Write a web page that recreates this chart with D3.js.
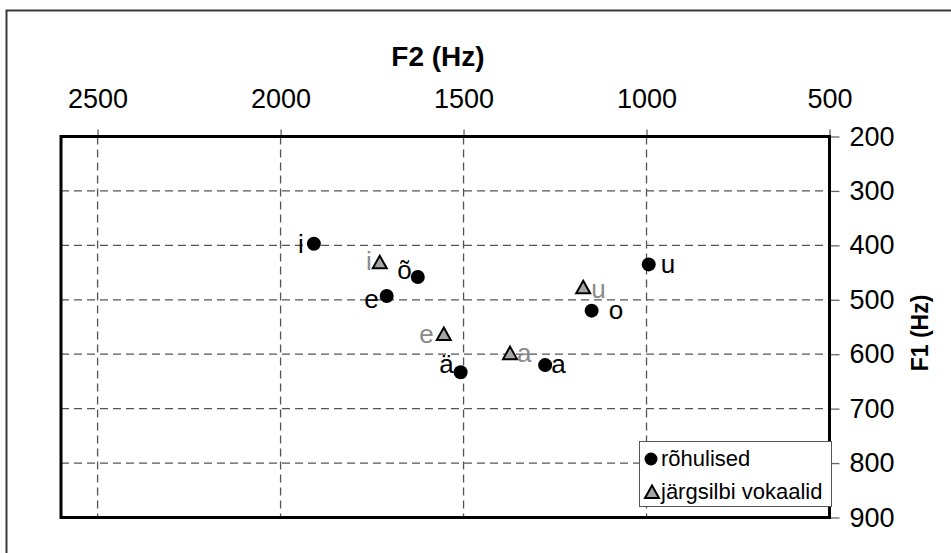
<!DOCTYPE html>
<html>
<head>
<meta charset="utf-8">
<script src="https://cdn.jsdelivr.net/npm/d3@7"></script>
<style>
  html, body { margin: 0; padding: 0; background: #fff; }
  svg { display: block; font-family: "Liberation Sans", Arial, sans-serif; }
</style>
</head>
<body>
<svg id="chart" width="951" height="553"></svg>
<script>
// Estonian vowel formants: stressed vowels vs. vowels of non-initial syllables
const stressedVowels = ["i", "õ", "e", "ä", "a", "o", "u"];
const stressedF2 = [1909, 1625, 1710, 1508, 1277, 1150, 994];
const stressedF1 = [397, 458, 493, 633, 620, 520, 435];

const unstressedVowels = ["i", "e", "a", "u"];
const unstressedF2 = [1729, 1554, 1373, 1173];
const unstressedF1 = [431, 563, 598, 477];

const f2Ticks = [2500, 2000, 1500, 1000, 500];
const f1Ticks = [200, 300, 400, 500, 600, 700, 800, 900];

const legendLabels = ["rõhulised", "järgsilbi vokaalid"];

// label placement around each marker: [anchor, dx, dy]
const stressedLabelPos = {
  i: ["end", -10, 9], "õ": ["end", -6, 2], e: ["end", -8, 12], "ä": ["end", -7, 1],
  a: ["start", 6, 8], o: ["start", 17, 8], u: ["start", 12, 9]
};
const unstressedLabelPos = {
  i: ["end", -8, 8], e: ["end", -10, 9], a: ["start", 7, 9], u: ["start", 8, 11]
};

const FONT = "Liberation Sans, Arial, sans-serif";
const svg = d3.select("#chart");

const plot = { left: 61, right: 829.5, top: 136.5, bottom: 517.5 };

const x = d3.scaleLinear().domain([2600, 500]).range([plot.left, plot.right]);
const y = d3.scaleLinear().domain([200, 900]).range([plot.top, plot.bottom]);

// outer frame
svg.append("rect")
  .attr("x", 6.5).attr("y", 10.5).attr("width", 1000).attr("height", 1000)
  .attr("fill", "none").attr("stroke", "#3a3a3a").attr("stroke-width", 2);

// dashed grid
const grid = svg.append("g").attr("stroke", "#555").attr("stroke-width", 1.3)
  .attr("stroke-dasharray", "8,5").attr("fill", "none");
grid.selectAll("line.v").data(f2Ticks.filter(t => t > 500)).join("line")
  .attr("x1", d => x(d)).attr("x2", d => x(d))
  .attr("y1", plot.top).attr("y2", plot.bottom);
grid.selectAll("line.h").data(f1Ticks.filter(t => t > 200 && t < 900)).join("line")
  .attr("class", "h")
  .attr("x1", plot.left).attr("x2", plot.right)
  .attr("y1", d => y(d)).attr("y2", d => y(d));

// top F2 axis
const xAxis = d3.axisTop(x).tickValues(f2Ticks).tickFormat(d3.format("d"))
  .tickSize(7).tickPadding(22);
const gx = svg.append("g").attr("transform", `translate(0,${plot.top})`).call(xAxis);
gx.select(".domain").remove();
gx.selectAll(".tick line").attr("stroke", "#666").attr("stroke-width", 1.3);
gx.selectAll(".tick text").attr("font-size", 27).attr("fill", "#000").attr("font-family", FONT);

// right F1 axis
const yAxis = d3.axisRight(y).tickValues(f1Ticks).tickFormat(d3.format("d"))
  .tickSize(10).tickPadding(10);
const gy = svg.append("g").attr("transform", `translate(${plot.right},0)`).call(yAxis);
gy.select(".domain").remove();
gy.selectAll(".tick line").attr("stroke", "#666").attr("stroke-width", 1.3);
gy.selectAll(".tick text").attr("font-size", 27).attr("fill", "#000").attr("font-family", FONT);

// plot frame
svg.append("rect")
  .attr("x", plot.left).attr("y", plot.top)
  .attr("width", plot.right - plot.left).attr("height", plot.bottom - plot.top)
  .attr("fill", "none").attr("stroke", "#000").attr("stroke-width", 3);

// axis titles
svg.append("text").attr("x", 438).attr("y", 66).attr("text-anchor", "middle")
  .attr("font-size", 28).attr("font-weight", "bold").text("F2 (Hz)");
svg.append("text").attr("transform", "translate(928,333) rotate(-90)")
  .attr("text-anchor", "middle").attr("font-size", 23).attr("font-weight", "bold")
  .text("F1 (Hz)");

const triPath = "M0,-6.5L7,6L-7,6Z";

const stressed = stressedVowels.map((v, i) => ({ v, f2: stressedF2[i], f1: stressedF1[i] }));
const unstressed = unstressedVowels.map((v, i) => ({ v, f2: unstressedF2[i], f1: unstressedF1[i] }));

// stressed vowels: black circles
svg.append("g").selectAll("circle").data(stressed).join("circle")
  .attr("cx", d => x(d.f2)).attr("cy", d => y(d.f1)).attr("r", 7).attr("fill", "#000");

// non-initial syllable vowels: grey triangles
svg.append("g").selectAll("path").data(unstressed).join("path")
  .attr("d", triPath)
  .attr("transform", d => `translate(${x(d.f2)},${y(d.f1)})`)
  .attr("fill", "#a6a6a6").attr("stroke", "#000").attr("stroke-width", 2);

svg.append("g").selectAll("text").data(stressed).join("text")
  .attr("x", d => x(d.f2) + stressedLabelPos[d.v][1])
  .attr("y", d => y(d.f1) + stressedLabelPos[d.v][2])
  .attr("text-anchor", d => stressedLabelPos[d.v][0])
  .attr("font-size", 26).attr("fill", "#000").text(d => d.v);

svg.append("g").selectAll("text").data(unstressed).join("text")
  .attr("x", d => x(d.f2) + unstressedLabelPos[d.v][1])
  .attr("y", d => y(d.f1) + unstressedLabelPos[d.v][2])
  .attr("text-anchor", d => unstressedLabelPos[d.v][0])
  .attr("font-size", 26).attr("fill", "#8a8a8a").text(d => d.v);

// legend
const lg = svg.append("g");
lg.append("rect").attr("x", 639.5).attr("y", 441.5).attr("width", 192).attr("height", 65)
  .attr("fill", "#fff").attr("stroke", "#555").attr("stroke-width", 1);
lg.append("circle").attr("cx", 651).attr("cy", 459).attr("r", 6.5).attr("fill", "#000");
lg.append("path").attr("d", triPath).attr("transform", "translate(652,492)")
  .attr("fill", "#a6a6a6").attr("stroke", "#000").attr("stroke-width", 2);
lg.append("text").attr("x", 661).attr("y", 466).attr("font-size", 22).text(legendLabels[0]);
lg.append("text").attr("x", 661).attr("y", 499).attr("font-size", 22).text(legendLabels[1]);
</script>
</body>
</html>
